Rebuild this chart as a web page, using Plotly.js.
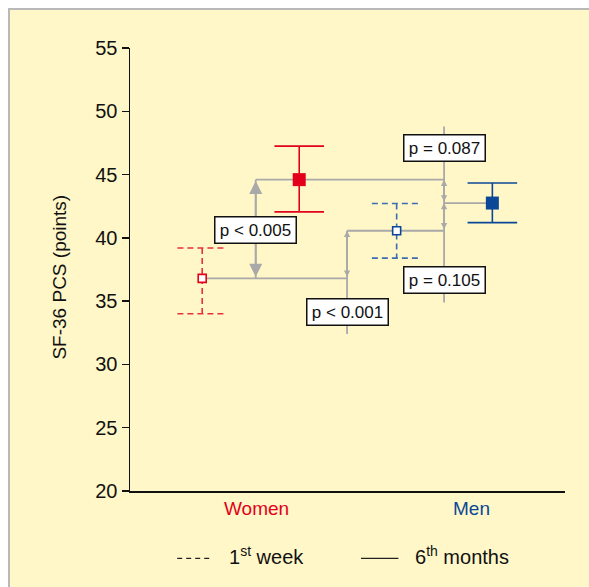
<!DOCTYPE html>
<html><head><meta charset="utf-8">
<script src="https://cdn.plot.ly/plotly-3.0.1.min.js"></script>
<style>
html,body{margin:0;padding:0;background:#fff;}
#frame{position:absolute;left:8px;top:8px;width:581px;height:579px;border-top:2px solid #b9b9b9;border-left:2px solid #b9b9b9;background:#FFF7C8;}
#chart{width:581px;height:579px;}
</style></head>
<body><div id="frame"><div id="chart"></div></div>
<script>
// ---- data ----
const groups = ['Women', 'Men'];
const periods = ['1<sup>st</sup> week', '6<sup>th</sup> months'];
// means, upper and lower error bar ends (SF-36 PCS points)
const womenMean = [36.8, 44.6];
const womenUpper = [39.2, 47.25];
const womenLower = [34.0, 42.05];
const menMean = [40.56, 42.75];
const menUpper = [42.72, 44.34];
const menLower = [38.4, 41.2];
const pLabels = ['p < 0.005', 'p < 0.001', 'p = 0.087', 'p = 0.105'];
const yTicks = [20, 25, 30, 35, 40, 45, 50, 55];

// ---- layout positions (x in axis units 0..10) ----
const womenX = [1.66, 3.89];
const menX = [6.13, 8.33];
const groupX = [2.91, 7.86];
const capHalf = 0.57;
const colRed = '#E3001B', colRedD = '#E8303C';
const colBlue = '#0B4797', colBlueD = '#3C6CB2';
const grey = '#A9A9A9';
const FONT = 'Liberation Sans, Arial, sans-serif';

const traces = [];
function errBar(x, lo, hi, color, dash){
  traces.push({x:[x-capHalf,x+capHalf,null,x,x,null,x-capHalf,x+capHalf],
    y:[hi,hi,null,hi,lo,null,lo,lo], mode:'lines', type:'scatter',
    line:{color:color,width:1.6,dash:dash}, hoverinfo:'skip', showlegend:false});
}
errBar(womenX[0], womenLower[0], womenUpper[0], colRedD, '6px,4px');
errBar(womenX[1], womenLower[1], womenUpper[1], colRed, 'solid');
errBar(menX[0], menLower[0], menUpper[0], colBlueD, '6px,4px');
errBar(menX[1], menLower[1], menUpper[1], colBlue, 'solid');

// grey connector lines
const vx1 = 4.99, vx2 = 7.22, bigX = 2.89;
function gline(xs, ys){
  traces.push({x:xs,y:ys,mode:'lines',type:'scatter',line:{color:grey,width:1.8},hoverinfo:'skip',showlegend:false});
}
gline([womenX[0], vx1], [womenMean[0], womenMean[0]]);
gline([vx1, vx1], [32.4, menMean[0]]);
gline([vx1, vx2], [menMean[0], menMean[0]]);
gline([bigX, vx2], [womenMean[1], womenMean[1]]);
gline([vx2, vx2], [48.8, 34.9]);
gline([vx2, menX[1]], [menMean[1], menMean[1]]);
gline([bigX, bigX], [womenMean[1], womenMean[0]]);

// markers
traces.push({x:[womenX[0]], y:[womenMean[0]], mode:'markers', type:'scatter',
  marker:{symbol:'square', size:8, color:'#fff', line:{color:colRed, width:1.6}}, showlegend:false, hoverinfo:'skip'});
traces.push({x:[womenX[1]], y:[womenMean[1]], mode:'markers', type:'scatter',
  marker:{symbol:'square', size:13, color:colRed, line:{width:0}}, showlegend:false, hoverinfo:'skip'});
traces.push({x:[menX[0]], y:[menMean[0]], mode:'markers', type:'scatter',
  marker:{symbol:'square', size:8, color:'#fff', line:{color:colBlue, width:1.6}}, showlegend:false, hoverinfo:'skip'});
traces.push({x:[menX[1]], y:[menMean[1]], mode:'markers', type:'scatter',
  marker:{symbol:'square', size:13, color:colBlue, line:{width:0}}, showlegend:false, hoverinfo:'skip'});

const ann = [];
function arrow(x, y1, y2, size){
  ann.push({x:x, y:y1, ax:x, ay:y2, xref:'x', yref:'y', axref:'x', ayref:'y', text:'',
    showarrow:true, arrowhead:2, arrowside:'end+start', arrowsize:size, arrowwidth:1.8, arrowcolor:grey, standoff:0, startstandoff:0});
}
arrow(bigX, womenMean[1]-0.1, womenMean[0], 1.45);
arrow(vx1, menMean[0], womenMean[0], 0.7);
arrow(vx2, womenMean[1], menMean[1], 0.7);
arrow(vx2, menMean[1], menMean[0], 0.7);

function pbox(text, x, y){
  ann.push({x:x, y:y, xref:'x', yref:'y', text:text, showarrow:false,
    font:{family:FONT, size:17, color:'#111'},
    bgcolor:'#ffffff', bordercolor:'#111', borderwidth:1.5, borderpad:3, width:74, height:19});
}
pbox(pLabels[0], bigX, 40.65);
pbox(pLabels[1], vx1, 34.13);
pbox(pLabels[2], vx2, 47.12);
pbox(pLabels[3], vx2, 36.67);

// group labels
ann.push({x:groupX[0], y:-0.04, xref:'x', yref:'paper', text:groups[0], showarrow:false, yanchor:'middle',
  font:{family:FONT, size:19, color:colRed}});
ann.push({x:groupX[1], y:-0.04, xref:'x', yref:'paper', text:groups[1], showarrow:false, yanchor:'middle',
  font:{family:FONT, size:19, color:colBlue}});

// y title
ann.push({x:-0.162, y:0.483, xref:'paper', yref:'paper', xanchor:'center', yanchor:'middle',
  text:'SF-36 PCS (points)', textangle:-90, showarrow:false,
  font:{family:FONT, size:19, color:'#111'}});

// legend
ann.push({x:0.222, y:-0.146, xref:'paper', yref:'paper', xanchor:'left', yanchor:'middle', showarrow:false,
  text:periods[0], font:{family:FONT, size:20, color:'#111'}});
ann.push({x:0.651, y:-0.146, xref:'paper', yref:'paper', xanchor:'left', yanchor:'middle', showarrow:false,
  text:periods[1], font:{family:FONT, size:20, color:'#111'}});

const shapes = [
  {type:'line', xref:'paper', yref:'paper', x0:0.1085, x1:0.189, y0:-0.152, y1:-0.152, line:{color:'#222', width:1.3, dash:'5px,4px'}},
  {type:'line', xref:'paper', yref:'paper', x0:0.531, x1:0.617, y0:-0.152, y1:-0.152, line:{color:'#222', width:1.3}}
];

const layout = {
  width:581, height:579,
  margin:{l:120, r:26, t:38, b:98},
  paper_bgcolor:'#FFF7C8', plot_bgcolor:'#FFF7C8',
  showlegend:false,
  xaxis:{range:[0,10], showgrid:false, zeroline:false, showticklabels:false, ticks:'',
    showline:true, linecolor:'#111', linewidth:1.5, fixedrange:true},
  yaxis:{range:[20,55], tickvals:yTicks, ticks:'outside', ticklen:7, tickwidth:1.3, tickcolor:'#111',
    showgrid:false, zeroline:false, showline:true, linecolor:'#111', linewidth:1.5,
    tickfont:{family:FONT, size:20, color:'#111'}, fixedrange:true},
  annotations:ann, shapes:shapes
};
Plotly.newPlot('chart', traces, layout, {displayModeBar:false, staticPlot:true});
</script></body></html>
